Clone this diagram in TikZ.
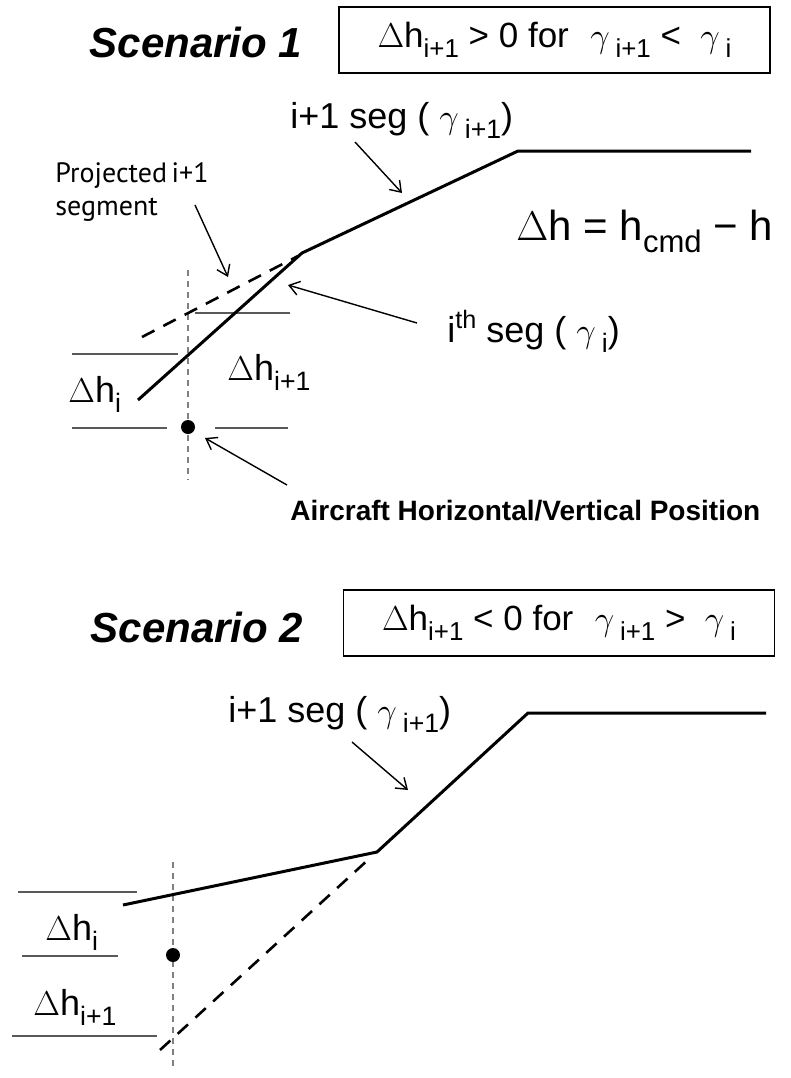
\documentclass[tikz,border=0pt]{standalone}
\usepackage{fontspec}
\setmainfont{Liberation Sans}
\newfontfamily\notefont{PT Sans}
\usetikzlibrary{arrows.meta}

\newcommand\lowsub[1]{\raisebox{-0.3em}{\scalebox{0.74}{#1}}}
\newcommand\lowsup[1]{\raisebox{0.38em}{\scalebox{0.7}{#1}}}

\tikzset{
  profile/.style={line width=1.5pt, line join=miter},
  projected/.style={line width=1.3pt, dash pattern=on 7pt off 5pt},
  guide/.style={line width=1pt, black!65},
  vguide/.style={line width=0.9pt, black!50, dash pattern=on 3pt off 2.5pt},
  pointer/.style={line width=0.7pt, -{Straight Barb[length=5pt,width=7pt]}},
  condbox/.style={draw, line width=0.8pt, minimum width=215.5pt, minimum height=33pt,
    inner sep=0pt, font=\fontsize{17.5}{20}\selectfont},
  scentitle/.style={anchor=base, inner sep=0pt, font=\fontsize{21}{25}\selectfont\bfseries\itshape},
  lbl/.style={anchor=base west, inner sep=0pt, font=\fontsize{18}{21}\selectfont},
}

\begin{document}
\begin{tikzpicture}[x=0.5pt,y=-0.5pt]
  \useasboundingbox (0,0) rectangle (791,1078);

  % ---- Scenario 1
  \node[scentitle] (scen1) at (196,57) {Scenario 1};
  \node[condbox] (cond1) at (554.5,40)
    {$\Delta$h\lowsub{i+1} > 0 for\,\, $\gamma$\,\lowsub{i+1} < \;$\gamma$\,\lowsub{i}};

  \coordinate (s1a) at (138,400);
  \coordinate (s1b) at (302,253);
  \coordinate (s1c) at (518,151);
  \coordinate (s1d) at (751,151);
  \coordinate (p1a) at (142,337);
  \coordinate (p1b) at (298,256);
  \coordinate (ac1) at (188,427);

  \draw[vguide] (188,270) -- (188,480);
  \draw[guide] (72,354) -- (178,354);
  \draw[guide] (195,313) -- (290,313);
  \draw[guide] (72,428) -- (167,428);
  \draw[guide] (215,428) -- (288,428);
  \draw[projected] (p1a) -- (p1b);
  \draw[profile] (s1a) -- (s1b) -- (s1c) -- (s1d);
  \fill (ac1) circle (3.5pt);

  \node[lbl] (seg1) at (290,128) {i+1 seg ( $\gamma$\,\lowsub{i+1})};
  \node[lbl] (segi1) at (447,342) {i\lowsup{th} seg ( $\gamma$\,\lowsub{i})};
  \node[lbl, font=\fontsize{21}{25}\selectfont] (dh) at (516,240) {$\Delta$h = h\lowsub{cmd} − h};
  \node[lbl] (dhi1) at (68,402) {$\Delta$h\lowsub{i}};
  \node[lbl] (dhn1) at (227,380) {$\Delta$h\lowsub{i+1}};
  \node[anchor=north west, inner sep=0pt, align=left,
    font=\fontsize{14}{16.5}\selectfont\notefont] (proj1) at (55,162) {Projected\,i+1\\segment};
  \node[lbl, font=\fontsize{14}{17}\selectfont\bfseries] (acpos) at (290,520)
    {Aircraft Horizontal/Vertical Position};

  \coordinate (t1) at (402,193);
  \coordinate (t2) at (228,277);
  \coordinate (t3) at (288,285);
  \coordinate (t4) at (205,438);
  \draw[pointer] (355,142) -- (t1);
  \draw[pointer] (195,205) -- (t2);
  \draw[pointer] (417,323) -- (t3);
  \draw[pointer] (287,485) -- (t4);

  % ---- Scenario 2
  \node[scentitle] (scen2) at (197,642) {Scenario 2};
  \node[condbox] (cond2) at (559,623)
    {$\Delta$h\lowsub{i+1} < 0 for\,\, $\gamma$\,\lowsub{i+1} > \;$\gamma$\,\lowsub{i}};

  \coordinate (s2a) at (123,905);
  \coordinate (s2b) at (377,852);
  \coordinate (s2c) at (528,713);
  \coordinate (s2d) at (766,713);
  \coordinate (p2a) at (160,1050);
  \coordinate (p2b) at (370,858);
  \coordinate (ac2) at (173,955);

  \draw[vguide] (173,862) -- (173,1068);
  \draw[guide] (18,892) -- (137,892);
  \draw[guide] (22,956) -- (118,956);
  \draw[guide] (12,1036) -- (157,1036);
  \draw[projected] (p2a) -- (p2b);
  \draw[profile] (s2a) -- (s2b) -- (s2c) -- (s2d);
  \fill (ac2) circle (3.5pt);

  \node[lbl] (seg2) at (228,722) {i+1 seg ( $\gamma$\,\lowsub{i+1})};
  \node[lbl] (dhi2) at (45,940) {$\Delta$h\lowsub{i}};
  \node[lbl] (dhn2) at (33,1015) {$\Delta$h\lowsub{i+1}};

  \coordinate (t5) at (408,790);
  \draw[pointer] (352,742) -- (t5);
\end{tikzpicture}
\end{document}
